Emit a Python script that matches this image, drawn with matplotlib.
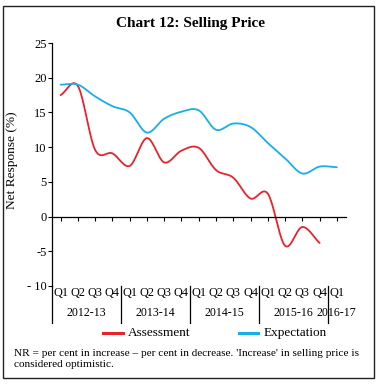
import numpy as np
import matplotlib
matplotlib.use("Agg")
import matplotlib.pyplot as plt
from matplotlib.transforms import blended_transform_factory
from matplotlib.lines import Line2D
from matplotlib.patches import Rectangle

quarters = ["Q1", "Q2", "Q3", "Q4"] * 4 + ["Q1"]
years = ["2012-13", "2013-14", "2014-15", "2015-16", "2016-17"]
year_sizes = [4, 4, 4, 4, 1]
assessment = [17.5, 18.8, 9.6, 9.1, 7.3, 11.3, 7.8, 9.5, 9.9, 6.7, 5.6, 2.6, 3.3, -4.2, -1.5, -3.8]
expectation = [19.0, 19.0, 17.3, 15.9, 15.0, 12.1, 14.1, 15.1, 15.3, 12.5, 13.4, 12.9, 10.6, 8.4, 6.2, 7.2, 7.1]
yticks = [25, 20, 15, 10, 5, 0, -5, -10]
ytick_labels = ["25", "20", "15", "10", "5", "0", "-5", "- 10"]

RED = "#E8232B"
BLUE = "#18AEE8"
FONT = "Liberation Serif"
plt.rcParams["font.family"] = [FONT, "DejaVu Serif"]

W, H = 380, 384


def smooth(y, n=20):
    y = np.asarray(y, float)
    x = np.arange(len(y), dtype=float)
    p = np.concatenate([[2 * y[0] - y[1]], y, [2 * y[-1] - y[-2]]])
    xs, ys = [], []
    for i in range(len(y) - 1):
        p0, p1, p2, p3 = p[i], p[i + 1], p[i + 2], p[i + 3]
        t = np.linspace(0, 1, n, endpoint=False)
        v = 0.5 * ((2 * p1) + (-p0 + p2) * t + (2 * p0 - 5 * p1 + 4 * p2 - p3) * t ** 2
                   + (-p0 + 3 * p1 - 3 * p2 + p3) * t ** 3)
        xs.append(x[i] + t)
        ys.append(v)
    xs.append([x[-1]])
    ys.append([y[-1]])
    return np.concatenate(xs), np.concatenate(ys)


fig = plt.figure(figsize=(W / 100, H / 100), dpi=100)
fig.patch.set_facecolor("white")

left_px, right_px, top_px, bot_px = 52, 345.5, 43, 286
ax = fig.add_axes([left_px / W, 1 - bot_px / H, (right_px - left_px) / W, (bot_px - top_px) / H])
ax.set_xlim(-0.5, len(quarters) - 0.5)
ax.set_ylim(-10, 25)

xa, ya = smooth(assessment)
xe, ye = smooth(expectation)
ax.plot(xa, ya, color=RED, lw=1.3, solid_capstyle="round")
ax.plot(xe, ye, color=BLUE, lw=1.3, solid_capstyle="round")

for s in ["top", "right"]:
    ax.spines[s].set_visible(False)
ax.spines["bottom"].set_position(("data", 0))
ax.spines["left"].set_linewidth(0.9)
ax.spines["bottom"].set_linewidth(0.9)
ax.set_xticks(range(len(quarters)))
ax.tick_params(axis="x", length=3, width=0.8, labelbottom=False, direction="out")
ax.set_yticks(yticks)
ax.set_yticklabels(ytick_labels, fontsize=9)
ax.tick_params(axis="y", length=3, width=0.8, pad=1)
ax.set_ylabel("Net Response (%)", fontsize=9.6, labelpad=3)
ax.yaxis.set_label_coords(-(52 - 18) / (right_px - left_px), (286 - 160) / (bot_px - top_px))

tr = blended_transform_factory(ax.transData, fig.transFigure)
for i, q in enumerate(quarters):
    ax.text(i, 1 - 293 / H, q, transform=tr, ha="center", va="center", fontsize=8.8, clip_on=False)
start = 0
seps = [-0.5]
for yr, n in zip(years, year_sizes):
    c = start + (n - 1) / 2
    ax.text(c, 1 - 313 / H, yr, transform=tr, ha="center", va="center", fontsize=8.6, clip_on=False)
    start += n
    seps.append(start - 0.5)
for s in seps[:-1]:
    ax.add_line(Line2D([s, s], [1 - 286 / H, 1 - 323 / H], transform=tr, color="black", lw=0.9, clip_on=False))

fig.text(0.5, 1 - 23 / H, "Chart 12: Selling Price", ha="center", va="center", fontsize=11, fontweight="bold")

ly = 1 - 333 / H
fig.add_artist(Line2D([103 / W, 123 / W], [ly, ly], color=RED, lw=2.2))
fig.text(128 / W, ly, "Assessment", ha="left", va="center", fontsize=9.5)
fig.add_artist(Line2D([239 / W, 258 / W], [ly, ly], color=BLUE, lw=2.2))
fig.text(264 / W, ly, "Expectation", ha="left", va="center", fontsize=9.5)

fig.text(14 / W, 1 - 353 / H,
         "NR = per cent in increase \u2013 per cent in decrease. 'Increase' in selling price is",
         ha="left", va="center", fontsize=8.1)
fig.text(14 / W, 1 - 364.5 / H, "considered optimistic.", ha="left", va="center", fontsize=8.1)

fig.add_artist(Rectangle((3.5 / W, 1 - 378 / H), 370 / W, 372 / H, transform=fig.transFigure,
                         fill=False, edgecolor="#222222", lw=1.0))

fig.savefig("out.png", dpi=100)
